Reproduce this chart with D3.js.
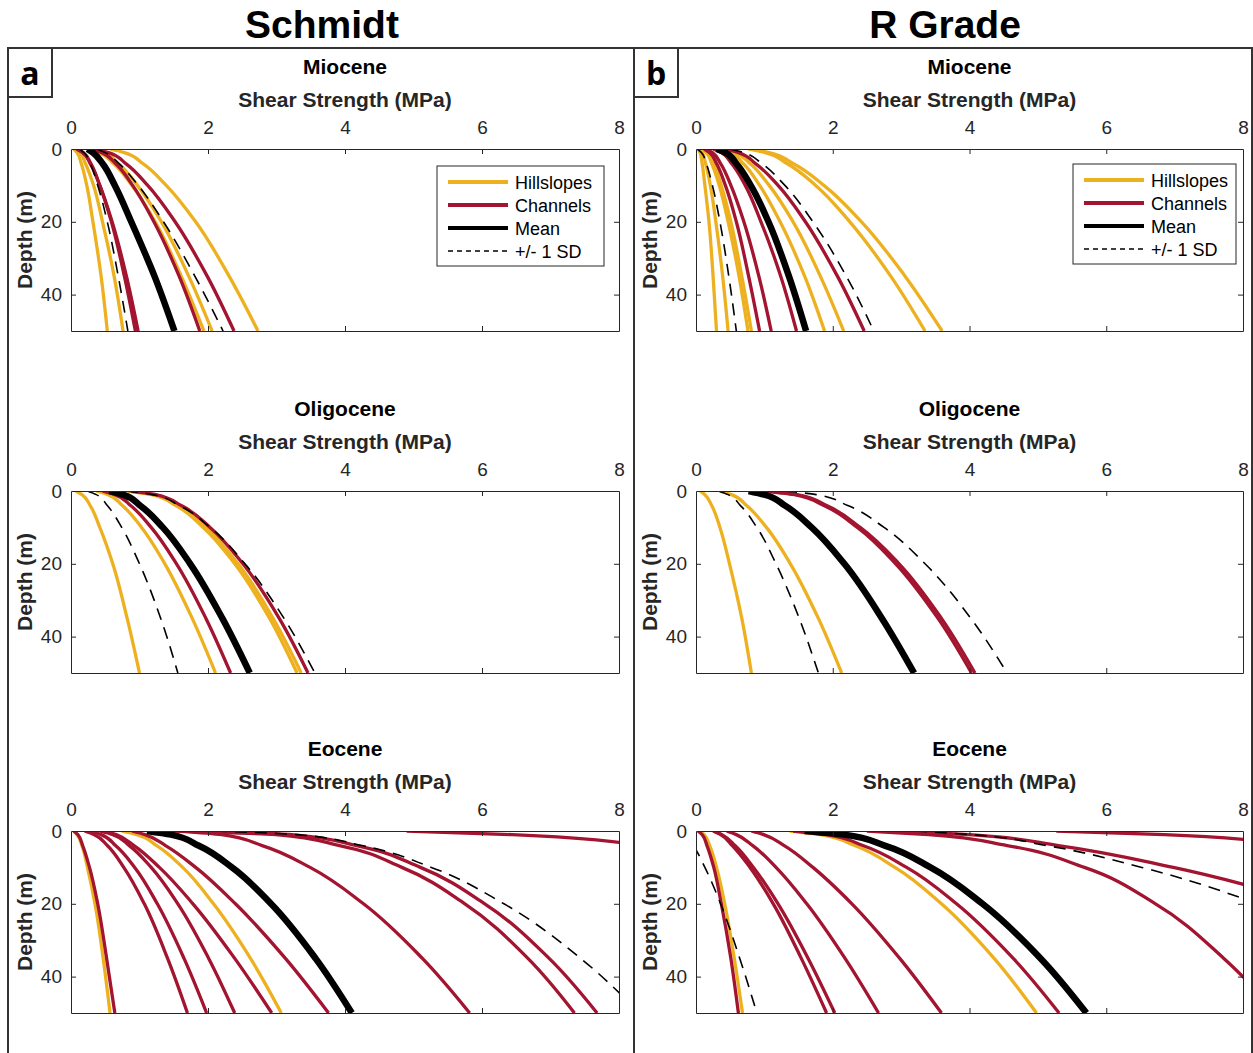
<!DOCTYPE html>
<html><head><meta charset="utf-8">
<script src="https://cdn.jsdelivr.net/npm/d3@7"></script>
<style>
body{margin:0;background:#fff;}
svg{display:block;font-family:"Liberation Sans",Arial,Helvetica,sans-serif;}
</style>
</head><body>
<svg id="chart" width="1253" height="1053"></svg>
<script>
// ---------- DATA (shear strength in MPa at each depth) ----------
const depths = [0, 1, 4, 10, 20, 35, 50];
const xTicks = [0, 2, 4, 6, 8];
const yTicks = [0, 20, 40];
const methodTitles = ["Schmidt", "R Grade"];
const panelLetters = ["a", "b"];
const epochTitles = ["Miocene", "Oligocene", "Eocene"];
const xLabel = "Shear Strength (MPa)";
const yLabel = "Depth (m)";
const legendLabels = ["Hillslopes", "Channels", "Mean", "+/- 1 SD"];

// Schmidt – Miocene
const sMioHill = [
  [0.04,0.09,0.15,0.23,0.32,0.44,0.53],
  [0.06,0.13,0.21,0.33,0.46,0.63,0.76],
  [0.25,0.41,0.62,0.89,1.23,1.61,1.94],
  [0.30,0.47,0.69,0.97,1.32,1.72,2.06],
  [0.57,0.78,1.05,1.39,1.82,2.31,2.73]];
const sMioChan = [
  [0.08,0.17,0.28,0.42,0.60,0.81,0.98],
  [0.10,0.18,0.29,0.42,0.59,0.78,0.94],
  [0.30,0.45,0.65,0.90,1.21,1.58,1.88],
  [0.35,0.55,0.80,1.12,1.52,1.99,2.38]];
const sMioMean = [0.24,0.32,0.46,0.64,0.88,1.22,1.51];
const sMioSD = [
  [0.12,0.19,0.28,0.39,0.53,0.69,0.83],
  [0.38,0.50,0.70,0.98,1.35,1.81,2.22]];

// R Grade – Miocene
const rMioHill = [
  [0.03,0.06,0.09,0.13,0.19,0.25,0.30],
  [0.05,0.09,0.14,0.21,0.29,0.39,0.47],
  [0.08,0.15,0.23,0.34,0.47,0.63,0.76],
  [0.10,0.17,0.26,0.37,0.51,0.67,0.81],
  [0.35,0.50,0.69,0.93,1.23,1.59,1.88],
  [0.40,0.57,0.79,1.07,1.42,1.82,2.16],
  [0.76,1.01,1.33,1.75,2.25,2.85,3.35],
  [0.80,1.07,1.42,1.87,2.42,3.06,3.60]];
const rMioChan = [
  [0.12,0.20,0.30,0.43,0.59,0.77,0.93],
  [0.15,0.24,0.36,0.51,0.70,0.92,1.10],
  [0.25,0.37,0.52,0.72,0.95,1.24,1.47],
  [0.42,0.62,0.87,1.20,1.60,2.07,2.46]];
const rMioMean = [0.30,0.43,0.59,0.80,1.06,1.36,1.61];
const rMioSD = [
  [0.02,0.08,0.15,0.24,0.35,0.48,0.59],
  [0.50,0.70,0.96,1.30,1.71,2.20,2.60]];

// Schmidt – Oligocene
const sOliHill = [
  [0.07,0.16,0.28,0.42,0.61,0.82,1.00],
  [0.37,0.54,0.75,1.03,1.37,1.77,2.11],
  [0.83,1.18,1.53,1.93,2.39,2.90,3.30],
  [0.85,1.20,1.56,1.97,2.44,2.95,3.36]];
const sOliChan = [
  [0.46,0.64,0.87,1.17,1.54,1.97,2.33],
  [0.88,1.24,1.61,2.03,2.51,3.04,3.46]];
const sOliMean = [0.56,0.76,1.01,1.34,1.74,2.21,2.61];
const sOliSD = [
  [0.24,0.37,0.53,0.74,1.00,1.31,1.56],
  [0.80,1.19,1.58,2.03,2.54,3.11,3.56]];

// R Grade – Oligocene
const rOliHill = [
  [0.06,0.13,0.23,0.35,0.49,0.67,0.81],
  [0.35,0.52,0.74,1.03,1.38,1.79,2.13]];
const rOliChan = [
  [1.01,1.44,1.87,2.36,2.92,3.54,4.03],
  [1.05,1.48,1.91,2.40,2.97,3.59,4.08]];
const rOliMean = [0.77,1.00,1.30,1.69,2.17,2.72,3.19];
const rOliSD = [
  [0.33,0.47,0.65,0.89,1.17,1.51,1.79],
  [1.30,1.76,2.22,2.75,3.35,4.02,4.55]];

// Schmidt – Eocene
const sEocHill = [
  [0.04,0.09,0.16,0.24,0.35,0.47,0.57],
  [0.74,0.96,1.25,1.63,2.08,2.62,3.07]];
const sEocChan = [
  [0.04,0.10,0.17,0.27,0.39,0.52,0.64],
  [0.20,0.34,0.53,0.77,1.07,1.41,1.70],
  [0.28,0.44,0.65,0.93,1.26,1.65,1.98],
  [0.42,0.61,0.85,1.17,1.56,2.01,2.39],
  [0.50,0.66,0.92,1.29,1.78,2.39,2.93],
  [0.89,1.08,1.38,1.82,2.40,3.13,3.76],
  [1.60,2.20,2.79,3.49,4.27,5.13,5.82],
  [1.50,2.99,3.92,4.83,5.75,6.67,7.35],
  [1.70,3.22,4.17,5.10,6.04,6.98,7.68],
  [4.90,6.44,8.44,11.0,14.2,17.9,21.0]];
const sEocMean = [1.11,1.46,1.86,2.35,2.92,3.57,4.10];
const sEocSD = [
  [2.10,3.30,4.25,5.26,6.32,7.44,8.30]];

// R Grade – Eocene
const rEocHill = [
  [0.06,0.12,0.20,0.30,0.42,0.56,0.68],
  [1.37,1.82,2.32,2.91,3.59,4.36,4.98]];
const rEocChan = [
  [0.03,0.09,0.16,0.26,0.37,0.51,0.62],
  [0.25,0.36,0.53,0.79,1.13,1.54,1.91],
  [0.27,0.38,0.57,0.84,1.20,1.64,2.03],
  [0.45,0.59,0.83,1.17,1.62,2.18,2.67],
  [0.81,0.99,1.29,1.71,2.28,2.98,3.59],
  [1.42,1.91,2.44,3.08,3.81,4.64,5.31],
  [2.50,3.40,4.55,5.68,6.72,7.72,8.50],
  [3.00,4.00,5.30,6.98,9.03,11.44,13.46],
  [5.27,6.85,8.89,11.54,14.77,18.6,21.7]];
const rEocMean = [1.59,2.17,2.76,3.43,4.19,5.04,5.71];
const rEocSD = [
  [-0.23,-0.16,-0.04,0.13,0.36,0.64,0.89],
  [3.20,4.03,5.12,6.52,8.23,10.24,11.92]];

// ---------- LAYOUT ----------
const COL_HILL = "#EDB120", COL_CHAN = "#A2142F", COL_AX = "#262626";
const svg = d3.select("#chart");
const cols = [
  {x0:71,  x1:619,  depthX:32,  frameX:8,   titleX:322, legend:{x:437, y:166, w:167, h:100}},
  {x0:696, x1:1243, depthX:657, frameX:634, titleX:945, legend:{x:1073, y:164, w:163, h:100}}
];
const rowTops = [149, 491, 831];
const plotH = 182;

const panels = [
  [ {hill:sMioHill, chan:sMioChan, mean:sMioMean, sd:sMioSD},
    {hill:rMioHill, chan:rMioChan, mean:rMioMean, sd:rMioSD} ],
  [ {hill:sOliHill, chan:sOliChan, mean:sOliMean, sd:sOliSD},
    {hill:rOliHill, chan:rOliChan, mean:rOliMean, sd:rOliSD} ],
  [ {hill:sEocHill, chan:sEocChan, mean:sEocMean, sd:sEocSD},
    {hill:rEocHill, chan:rEocChan, mean:rEocMean, sd:rEocSD} ]
];

// outer frame
svg.append("path")
  .attr("d", "M8,1053V48H1252V1053M634,48V1053")
  .attr("fill", "none").attr("stroke", "#333").attr("stroke-width", 2);

// method titles and panel letters
methodTitles.forEach((t, i) => {
  svg.append("text").attr("x", cols[i].titleX).attr("y", 38)
    .attr("text-anchor", "middle").attr("font-size", 39).attr("font-weight", "bold")
    .attr("fill", "#000").text(t);
  svg.append("rect").attr("x", cols[i].frameX).attr("y", 48).attr("width", 44).attr("height", 49)
    .attr("fill", "#fff").attr("stroke", "#333").attr("stroke-width", 2);
  svg.append("text").attr("x", cols[i].frameX + 22).attr("y", 85)
    .attr("text-anchor", "middle").attr("font-size", 32).attr("font-weight", "bold")
    .attr("font-family", "'Open Sans', sans-serif").attr("fill", "#000").text(panelLetters[i]);
});

let clipId = 0;
rowTops.forEach((top, r) => {
  cols.forEach((c, ci) => {
    const x = d3.scaleLinear().domain([0, 8]).range([c.x0, c.x1]);
    const y = d3.scaleLinear().domain([0, 50]).range([top, top + plotH]);
    const g = svg.append("g");
    const mid = (c.x0 + c.x1) / 2;

    g.append("text").attr("x", mid).attr("y", top - 75).attr("text-anchor", "middle")
      .attr("font-size", 21).attr("font-weight", "bold").attr("fill", "#000").text(epochTitles[r]);
    g.append("text").attr("x", mid).attr("y", top - 42).attr("text-anchor", "middle")
      .attr("font-size", 21).attr("font-weight", "bold").attr("fill", COL_AX).text(xLabel);
    g.append("text")
      .attr("transform", `translate(${c.depthX},${top + plotH / 2}) rotate(-90)`)
      .attr("text-anchor", "middle").attr("font-size", 21).attr("font-weight", "bold")
      .attr("fill", COL_AX).text(yLabel);

    const id = "clip" + (clipId++);
    svg.append("clipPath").attr("id", id).append("rect")
      .attr("x", c.x0).attr("y", top).attr("width", c.x1 - c.x0).attr("height", plotH);

    const line = d3.line()
      .x(v => x(v))
      .y((v, i) => y(depths[i]))
      .curve(d3.curveMonotoneY);

    const data = panels[r][ci];
    const lg = g.append("g").attr("clip-path", `url(#${id})`);
    data.hill.forEach(s => lg.append("path").attr("d", line(s)).attr("fill", "none")
      .attr("stroke", COL_HILL).attr("stroke-width", 3.3));
    data.chan.forEach(s => lg.append("path").attr("d", line(s)).attr("fill", "none")
      .attr("stroke", COL_CHAN).attr("stroke-width", 3.3));
    lg.append("path").attr("d", line(data.mean)).attr("fill", "none")
      .attr("stroke", "#000").attr("stroke-width", 6.5);
    data.sd.forEach(s => lg.append("path").attr("d", line(s)).attr("fill", "none")
      .attr("stroke", "#000").attr("stroke-width", 1.6).attr("stroke-dasharray", "12,8"));

    const styleAxis = sel => {
      sel.select(".domain").attr("stroke", COL_AX).attr("stroke-width", 1);
      sel.selectAll(".tick line").attr("stroke", COL_AX);
      sel.selectAll(".tick text").attr("fill", COL_AX).attr("font-size", 19)
        .attr("font-family", "'Liberation Sans', Arial, sans-serif");
    };
    g.append("g").attr("transform", `translate(0,${top})`)
      .call(d3.axisTop(x).tickValues(xTicks).tickSizeInner(-5).tickSizeOuter(0).tickPadding(15))
      .call(styleAxis);
    g.append("g").attr("transform", `translate(0,${top + plotH})`)
      .call(d3.axisBottom(x).tickValues(xTicks).tickFormat("").tickSizeInner(-5).tickSizeOuter(0))
      .call(styleAxis);
    g.append("g").attr("transform", `translate(${c.x0},0)`)
      .call(d3.axisLeft(y).tickValues(yTicks).tickSizeInner(-5).tickSizeOuter(0).tickPadding(9))
      .call(styleAxis);
    g.append("g").attr("transform", `translate(${c.x1},0)`)
      .call(d3.axisRight(y).tickValues(yTicks).tickFormat("").tickSizeInner(-5).tickSizeOuter(0))
      .call(styleAxis);
    g.selectAll(".tick line").filter(d => d === 0 || d === 8).attr("stroke", "none");

    if (r === 0) {
      const L = c.legend;
      const lgd = g.append("g");
      lgd.append("rect").attr("x", L.x).attr("y", L.y).attr("width", L.w).attr("height", L.h)
        .attr("fill", "#fff").attr("stroke", COL_AX).attr("stroke-width", 1);
      const rowsY = [16, 39, 62, 85];
      const styles = [
        {c: COL_HILL, w: 4, d: null},
        {c: COL_CHAN, w: 4, d: null},
        {c: "#000", w: 4, d: null},
        {c: "#000", w: 1.5, d: "5,4"}
      ];
      legendLabels.forEach((t, i) => {
        const ly = L.y + rowsY[i];
        const ln = lgd.append("line").attr("x1", L.x + 11).attr("x2", L.x + 71)
          .attr("y1", ly).attr("y2", ly).attr("stroke", styles[i].c).attr("stroke-width", styles[i].w);
        if (styles[i].d) ln.attr("stroke-dasharray", styles[i].d);
        lgd.append("text").attr("x", L.x + 78).attr("y", ly + 6.5)
          .attr("font-size", 18).attr("fill", "#000").text(t);
      });
    }
  });
});
</script>
</body></html>
